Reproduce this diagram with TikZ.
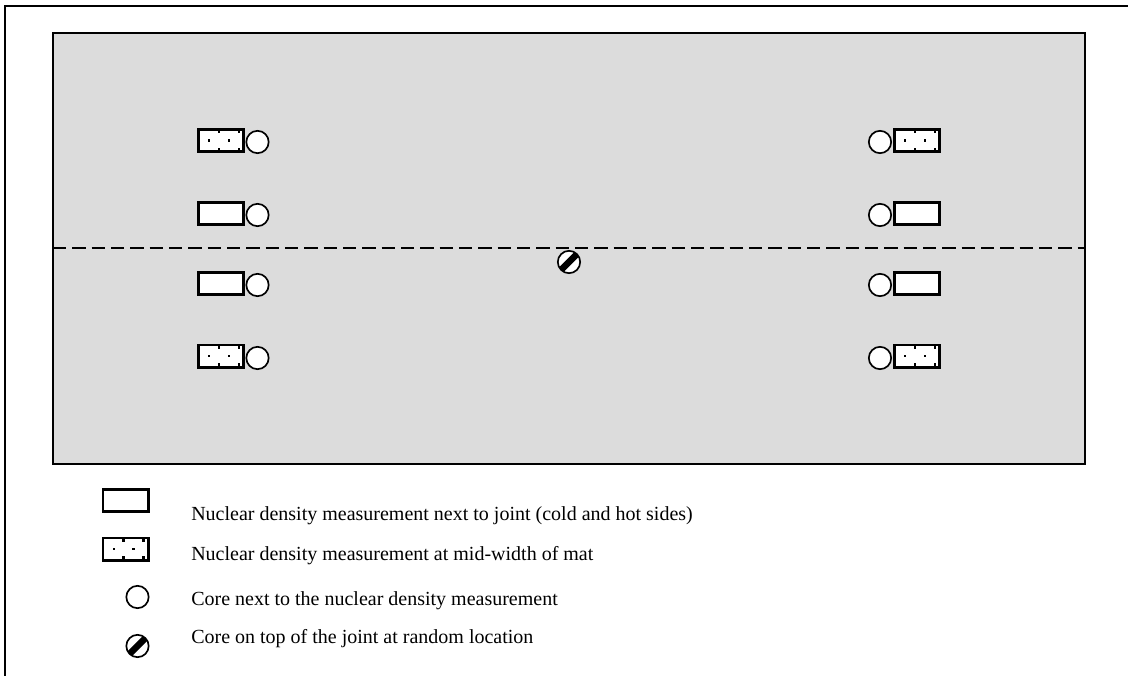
\documentclass[tikz,border=0pt]{standalone}
\usepackage{fontspec}
\setmainfont{Liberation Serif}
\usetikzlibrary{calc}
\definecolor{matgray}{RGB}{220,220,220}

\begin{document}
\begin{tikzpicture}[x=0.75pt,y=0.75pt,yscale=-1,xscale=1,
  ndbox/.style={draw,line width=2pt,fill=white,minimum width=34pt,minimum height=16.75pt,inner sep=0pt},
  midbox/.style={ndbox,path picture={
    \foreach \t in {0.46,0.9}{
      \fill [black] ($(path picture bounding box.north west)!\t!(path picture bounding box.north east)$) +(-1.2,-3.8) rectangle +(1.2,3.8);
      \fill [black] ($(path picture bounding box.south west)!\t!(path picture bounding box.south east)$) +(-1.2,-3.8) rectangle +(1.2,3.8);}
    \foreach \t in {0.24,0.68}{
      \fill [black] ($(path picture bounding box.west)!\t!(path picture bounding box.east)$) +(-1.2,-1.2) rectangle +(1.2,1.2);}
  }},
  core/.style={draw,line width=1.25pt,fill=white,circle,minimum size=16.75pt,inner sep=0pt},
  jointcore/.style={core,path picture={
    \draw [black,line width=5pt] (path picture bounding box.south west) -- (path picture bounding box.north east);
  }},
  legtext/.style={anchor=base west,inner sep=0pt,font=\fontsize{15}{18}\selectfont}]
\useasboundingbox (0,0) rectangle (1128,675);

%Shape: Frame
\draw [line width=1.5pt] (5,6) rectangle (1160,720);
%Shape: Mat
\draw [line width=1.5pt, fill=matgray] (53,33) rectangle (1085,464);
%Straight Lines: joint
\draw [line width=1.5pt, dash pattern=on 10pt off 4.5pt] (53,248) -- (1085,248);

%Left side (cold)
\node [midbox] (lb1) at (221,140.5) {};
\node [core] (lc1) at (257.5,142) {};
\node [ndbox] (lb2) at (221,213.5) {};
\node [core] (lc2) at (257.5,215) {};
\node [ndbox] (lb3) at (221,283.5) {};
\node [core] (lc3) at (257.5,285) {};
\node [midbox] (lb4) at (221,356) {};
\node [core] (lc4) at (257.5,358) {};

%Right side (hot)
\node [midbox] (rb1) at (917,140.5) {};
\node [core] (rc1) at (880,142) {};
\node [ndbox] (rb2) at (917,213.5) {};
\node [core] (rc2) at (880,215) {};
\node [ndbox] (rb3) at (917,283.5) {};
\node [core] (rc3) at (880,285) {};
\node [midbox] (rb4) at (917,356) {};
\node [core] (rc4) at (880,358) {};

%Core on the joint
\node [jointcore] (jc) at (569,262) {};

%Legend
\node [ndbox] (kb1) at (125.5,500.5) {};
\node [midbox] (kb2) at (125.5,549) {};
\node [core] (kc1) at (137.5,597) {};
\node [jointcore] (kc2) at (137.5,646) {};

% Text Node
\node [legtext] (kt1) at (191,520) {Nuclear density measurement next to joint (cold and hot sides)};
% Text Node
\node [legtext] (kt2) at (191,560) {Nuclear density measurement at mid-width of mat};
% Text Node
\node [legtext] (kt3) at (191,605) {Core next to the nuclear density measurement};
% Text Node
\node [legtext] (kt4) at (191,643) {Core on top of the joint at random location};
\end{tikzpicture}
\end{document}
